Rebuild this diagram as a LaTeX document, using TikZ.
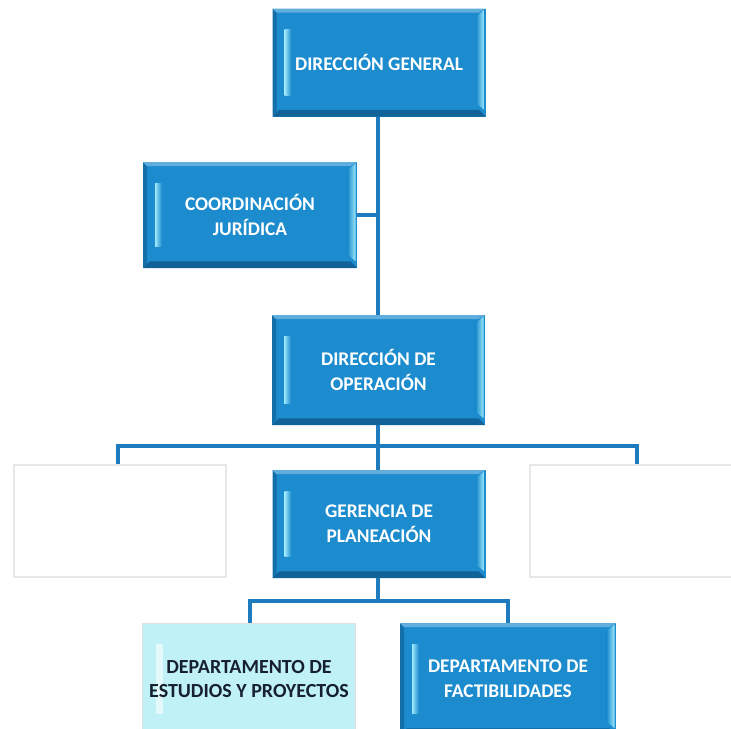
\documentclass[tikz,border=0pt]{standalone}
\usepackage{fontspec}
\setmainfont{Carlito}
\definecolor{boxblue}{RGB}{28,140,206}
\definecolor{boxdark}{RGB}{16,98,152}
\definecolor{boxhl}{RGB}{160,234,252}
\definecolor{linkblue}{RGB}{30,124,190}
\definecolor{paleblue}{RGB}{192,241,246}
\definecolor{darktext}{RGB}{22,32,48}
\tikzset{
  unitbox/.style={minimum width=159.75pt, minimum height=81pt, inner sep=0pt,
    align=center, font=\fontsize{14.5}{18.5}\selectfont\bfseries},
  bevel/.style={path picture={
    % darker bottom and left rims, light strip on the left, light bevel on the right
    \fill[boxdark] (path picture bounding box.south west) -- (path picture bounding box.south east)
      -- ([xshift=-5pt,yshift=5pt]path picture bounding box.south east)
      -- ([xshift=5pt,yshift=5pt]path picture bounding box.south west) -- cycle;
    \fill[boxdark!70!boxblue] (path picture bounding box.south west) -- (path picture bounding box.north west)
      -- ([xshift=3pt,yshift=-3pt]path picture bounding box.north west)
      -- ([xshift=3pt,yshift=3pt]path picture bounding box.south west) -- cycle;
    \fill[#1!70!white] (path picture bounding box.north west) -- (path picture bounding box.north east)
      -- ([xshift=-5pt,yshift=-3pt]path picture bounding box.north east)
      -- ([xshift=3pt,yshift=-3pt]path picture bounding box.north west) -- cycle;
    \shade[left color=#1, right color=boxhl]
      ([xshift=-7pt,yshift=-6pt]path picture bounding box.north east)
      -- ([xshift=-1pt,yshift=-1pt]path picture bounding box.north east)
      -- ([xshift=-1pt,yshift=5pt]path picture bounding box.south east)
      -- ([xshift=-7pt,yshift=10pt]path picture bounding box.south east) -- cycle;
    \shade[left color=boxhl, right color=#1]
      ([xshift=9pt,yshift=-16pt]path picture bounding box.north west)
      rectangle ([xshift=14pt,yshift=16pt]path picture bounding box.south west);
  }},
  bluebox/.style={unitbox, fill=boxblue, text=white, bevel=boxblue},
  palebox/.style={unitbox, fill=paleblue, text=darktext, draw=gray!25, line width=0.6pt,
    path picture={
      \shade[left color=paleblue!40!white, right color=paleblue]
        ([xshift=10pt,yshift=-16pt]path picture bounding box.north west)
        rectangle ([xshift=15pt,yshift=16pt]path picture bounding box.south west);
    }},
  blankbox/.style={minimum width=159pt, minimum height=84pt, inner sep=0pt,
    fill=white, draw=gray!18, line width=0.8pt},
  link/.style={draw=linkblue, line width=2.4pt}
}
\begin{document}
\begin{tikzpicture}[x=0.75pt, y=-0.75pt]
\clip (0,0) rectangle (731,728);
\fill[white] (0,0) rectangle (731,728);

% boxes
\node[bluebox] (dg) at (379,62.5) {DIRECCIÓN GENERAL};
\node[bluebox, minimum width=160.5pt, minimum height=79.5pt] (cj) at (250,215) {COORDINACIÓN\\JURÍDICA};
\node[bluebox, minimum height=82.5pt] (do) at (378.5,370) {DIRECCIÓN DE\\OPERACIÓN};
\node[blankbox] (wl) at (120,521) {};
\node[blankbox] (wr) at (636,521) {};
\node[bluebox] (gp) at (379,524) {GERENCIA DE\\PLANEACIÓN};
\node[palebox, minimum height=84pt, font=\fontsize{15}{18.5}\selectfont\bfseries] (dep) at (249,679) {DEPARTAMENTO DE\\ESTUDIOS Y PROYECTOS};
\node[bluebox, minimum width=162pt, minimum height=84pt] (df) at (508,679) {DEPARTAMENTO DE\\FACTIBILIDADES};

% junction points
\coordinate (jcj) at (378,215);
\coordinate (jmid) at (378,446);
\coordinate (jl) at (118,446);
\coordinate (jr) at (637,446);
\coordinate (jlow) at (378,601);
\coordinate (jll) at (250,601);
\coordinate (jlr) at (508,601);

% connectors
\path[link] (dg.south -| jcj) -- (do.north -| jcj);
\path[link] (cj.east) -- (jcj);
\path[link] (do.south -| jmid) -- (gp.north -| jmid);
\path[link] (jl |- wl.north) -- (jl) -- (jr) -- (jr |- wr.north);
\path[link] (gp.south -| jlow) -- (jlow);
\path[link] (dep.north -| jll) -- (jll) -- (jlr) -- (df.north -| jlr);
\end{tikzpicture}
\end{document}
